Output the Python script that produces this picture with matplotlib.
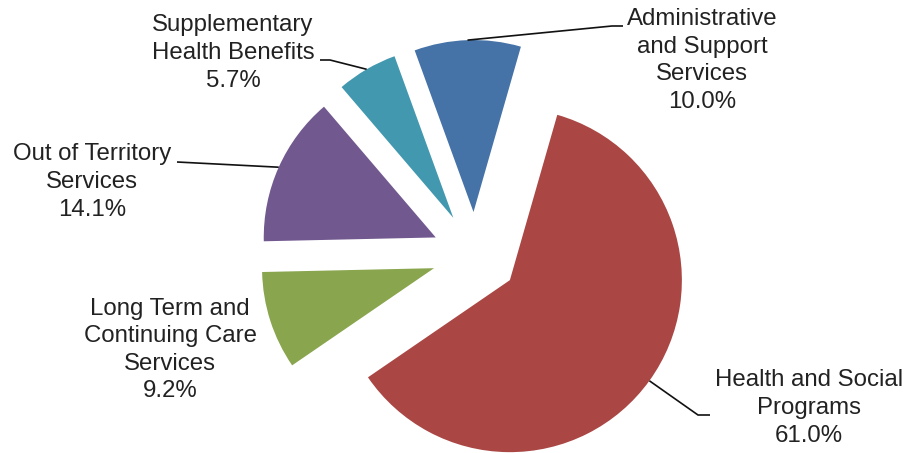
import numpy as np
import matplotlib
matplotlib.use("Agg")
import matplotlib.pyplot as plt

# Budget share by program area (percent)
categories = [
    "Administrative\nand Support\nServices",
    "Health and Social\nPrograms",
    "Long Term and\nContinuing Care\nServices",
    "Out of Territory\nServices",
    "Supplementary\nHealth Benefits",
]
shares = [10.0, 61.0, 9.2, 14.1, 5.7]
colors = ["#4572A7", "#AA4643", "#89A54E", "#71588F", "#4198AF"]

W, H = 919, 453
fig = plt.figure(figsize=(W / 100, H / 100), dpi=100)
ax = fig.add_axes([0, 0, 1, 1])

center = (475, 198)
radius = 172
gap = 43

wedges, _ = ax.pie(
    shares,
    colors=colors,
    startangle=110,
    counterclock=False,
    explode=[gap] * len(shares),
    radius=radius,
    center=center,
    wedgeprops=dict(linewidth=0),
)
ax.set_xlim(0, W)
ax.set_ylim(0, H)
ax.set_aspect("equal")
ax.axis("off")

text_kw = dict(fontsize=17.3, family="Liberation Sans", color="#222222",
               ha="center", va="center", linespacing=1.33)

# label centre, and leader path (elbow points from label towards the slice)
layout = [
    ((702, 392.5), [(623, 427), (612, 427)]),
    ((809, 45), [(710, 38), (698, 38)]),
    ((170, 103), None),
    ((92, 271), [(177, 291)]),
    ((233, 400), [(320, 393), (330, 393)]),
]

for wedge, name, val, (pos, path) in zip(wedges, categories, shares, layout):
    ax.text(pos[0], pos[1], f"{name}\n{val:.1f}%", **text_kw)
    if path is None:
        continue
    mid = np.deg2rad(0.5 * (wedge.theta1 + wedge.theta2))
    cx, cy = wedge.center
    arc_pt = (cx + wedge.r * np.cos(mid), cy + wedge.r * np.sin(mid))
    pts = path + [arc_pt]
    xs, ys = zip(*pts)
    ax.plot(xs, ys, color="#111111", lw=1.2, solid_capstyle="butt")

fig.savefig("out.png", dpi=100)
